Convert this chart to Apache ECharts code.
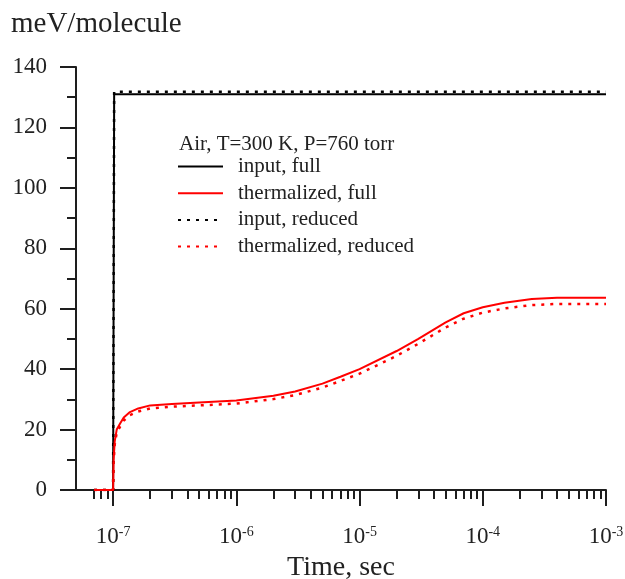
<!DOCTYPE html>
<html>
<head>
<meta charset="utf-8">
<script src="https://cdn.jsdelivr.net/npm/echarts@6/dist/echarts.min.js"></script>
<style>
html, body { margin: 0; padding: 0; background: #fff; }
#chart { width: 625px; height: 579px; }
</style>
</head>
<body>
<div id="chart"></div>
<script>
// time, sec
var inputTime = [7e-8, 1e-7, 1.02e-7, 1e-3];
var inputFull = [0, 0, 131, 131];
var inputReduced = [0, 0, 131.8, 131.8];

var thermTime = [7e-8, 1e-7, 1.01e-7, 1.03e-7, 1.07e-7, 1.14e-7, 1.22e-7, 1.37e-7, 1.6e-7, 2e-7, 3e-7, 5e-7,
	1e-6, 2e-6, 3e-6, 5e-6, 7e-6, 1e-5, 2e-5, 3e-5, 5e-5, 7e-5, 1e-4, 1.5e-4, 2.5e-4, 4e-4, 1e-3];
var thermFull = [0, 0, 10, 16, 20, 22, 24, 25.8, 27, 28, 28.5, 29,
	29.6, 31.2, 32.6, 35.2, 37.5, 40, 46, 50, 55.5, 58.5, 60.5, 62, 63.2, 63.6, 63.6];
var thermReduced = [0, 0, 9, 15, 19, 21, 23, 24.8, 26, 27, 27.6, 28,
	28.6, 30.1, 31.4, 33.9, 36.1, 38.5, 44.4, 48.4, 53.8, 56.7, 58.7, 60.1, 61.2, 61.6, 61.6];

var majorTicks = [1e-7, 1e-6, 1e-5, 1e-4, 1e-3];
var minorMult = [2, 3, 4, 5, 6, 7, 8, 9];

var seriesNames = ["input, full", "thermalized, full", "input, reduced", "thermalized, reduced"];

var minorTicks = [];
for (var d = 0; d < majorTicks.length - 1; d++) {
	for (var k = 0; k < minorMult.length; k++) {
		minorTicks.push(majorTicks[d] * minorMult[k]);
	}
}
// below 1e-7
for (var k = 5; k < minorMult.length; k++) {
	minorTicks.push(1e-8 * minorMult[k]);
}

function pairs(xs, ys) {
	return xs.map(function (x, i) { return [x, ys[i]]; });
}

var serif = "Liberation Serif";
var axisColor = "#1e1e1e";

var chart = echarts.init(document.getElementById("chart"));

var option = {
	animation: false,
	title: [{
		text: "meV/molecule",
		left: 11,
		top: 10,
		padding: 0,
		textStyle: { fontFamily: serif, fontSize: 29, fontWeight: "normal", color: "#222" }
	}, {
		text: "Air, T=300 K, P=760 torr",
		left: 179,
		top: 134,
		padding: 0,
		textStyle: { fontFamily: serif, fontSize: 21, fontWeight: "normal", color: "#222" }
	}],
	legend: {
		orient: "vertical",
		left: 177,
		top: 156,
		itemWidth: 45,
		itemHeight: 14,
		itemGap: 5.7,
		padding: 0,
		data: seriesNames,
		itemStyle: { opacity: 0 },
		textStyle: { fontFamily: serif, fontSize: 21, color: "#222", lineHeight: 20, padding: [0, 0, 0, 10] }
	},
	grid: { left: 76, right: 19, top: 67, bottom: 89, outerBoundsMode: "none" },
	xAxis: [{
		type: "log",
		min: 5e-8,
		max: 1e-3,
		position: "bottom",
		name: "Time, sec",
		nameLocation: "middle",
		nameGap: 63,
		nameTextStyle: { fontFamily: serif, fontSize: 28, color: "#222" },
		axisLine: { lineStyle: { color: axisColor, width: 2 } },
		axisTick: { show: true, length: 16, lineStyle: { color: axisColor, width: 2 }, customValues: majorTicks },
		axisLabel: {
			customValues: majorTicks,
			margin: 35,
			formatter: function (v) {
				return "{b|10}{s|" + Math.round(Math.log10(v)) + "}";
			},
			rich: {
				b: { fontFamily: serif, fontSize: 23, color: "#222", lineHeight: 24 },
				s: { fontFamily: serif, fontSize: 14, color: "#222", lineHeight: 14, verticalAlign: "top" }
			}
		},
		splitLine: { show: false }
	}, {
		type: "log",
		min: 5e-8,
		max: 1e-3,
		position: "bottom",
		axisLine: { show: false },
		axisTick: { show: true, length: 9, lineStyle: { color: axisColor, width: 2 }, customValues: minorTicks },
		axisLabel: { show: false },
		splitLine: { show: false }
	}],
	yAxis: {
		type: "value",
		min: 0,
		max: 140,
		interval: 20,
		axisLine: { show: true, lineStyle: { color: axisColor, width: 2 } },
		axisTick: { show: true, length: 16, lineStyle: { color: axisColor, width: 2 } },
		minorTick: { show: true, splitNumber: 2, length: 9, lineStyle: { color: axisColor, width: 2 } },
		axisLabel: { margin: 29, fontFamily: serif, fontSize: 23, color: "#222" },
		splitLine: { show: false }
	},
	series: [{
		name: seriesNames[0],
		type: "line",
		symbol: "none",
		color: "#000",
		lineStyle: { color: "#000", width: 2 },
		data: pairs(inputTime, inputFull)
	}, {
		name: seriesNames[1],
		type: "line",
		symbol: "none",
		color: "#ff0000",
		lineStyle: { color: "#ff0000", width: 2 },
		data: pairs(thermTime, thermFull)
	}, {
		name: seriesNames[2],
		type: "line",
		symbol: "none",
		color: "#000",
		lineStyle: { color: "#000", width: 2.5, type: [3, 6] },
		data: pairs(inputTime, inputReduced)
	}, {
		name: seriesNames[3],
		type: "line",
		symbol: "none",
		color: "#ff0000",
		lineStyle: { color: "#ff0000", width: 2.5, type: [3, 6] },
		data: pairs(thermTime, thermReduced)
	}]
};
chart.setOption(option);
</script>
</body>
</html>
